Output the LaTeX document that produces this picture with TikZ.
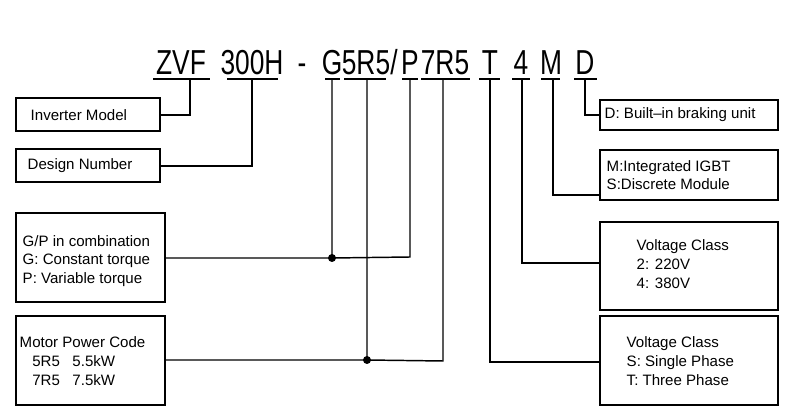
\documentclass[tikz,border=0pt]{standalone}
\usepackage{fontspec}
\setmainfont{Liberation Sans}
\begin{document}
\begin{tikzpicture}[x=0.75pt,y=-0.75pt,line width=1.1pt,
  code/.style={anchor=base,inner sep=0pt,font=\fontsize{26}{26}\selectfont,xscale=0.76},
  txt/.style={align=left,anchor=west,font=\fontsize{11.3}{14}\selectfont,inner sep=0pt},
  dot/.style={circle,fill,inner sep=0pt,minimum size=6pt}]
\useasboundingbox (0,0) rectangle (800,420);
% code
\node[code] (zvf) at (181,75) {ZVF};
\node[code] (h) at (252,75) {300H};
\node[code] (dash) at (302,75) {-};
\node[code] (g) at (332,75) {G};
\node[code] (r1) at (366,75) {5R5};
\node[code] (sl) at (394,75) {/};
\node[code] (p) at (410,75) {P};
\node[code] (r2) at (445,75) {7R5};
\node[code] (t) at (490,75) {T};
\node[code] (four) at (521,75) {4};
\node[code] (m) at (551,75) {M};
\node[code] (d) at (585,75) {D};
\draw (153,79)--(210,79) (227,79)--(278,79) (325,79)--(340,79) (344,79)--(386,79)
  (402,79)--(418,79) (421,79)--(470,79) (479,79)--(500,79) (512,79)--(530,79)
  (541,79)--(560,79) (574,79)--(597,79);
% left boxes
\draw[line width=1pt] (16,98) rectangle (160,131);
\node[txt] at (30,115) {Inverter Model};
\draw[line width=1pt] (16,149) rectangle (160,182);
\node[txt] at (27,166) {Design Number};
\draw[line width=1pt] (16,213) rectangle (165,302);
\node[txt] at (22,261) {G/P in combination\\G: Constant torque\\P: Variable torque};
\draw[line width=1pt] (16,316) rectangle (165,405);
\node[txt] at (19,361) {Motor Power Code\\\ \ \ 5R5\ \ \ 5.5kW\\\ \ \ 7R5\ \ \ 7.5kW};
% right boxes
\draw[line width=1pt] (600,100) rectangle (778,130);
\node[txt] at (604,115) {D: Built–in braking unit};
\draw[line width=1pt] (600,150) rectangle (778,200);
\node[txt] at (606,175) {M:Integrated IGBT\\S:Discrete Module};
\draw[line width=1pt] (600,222) rectangle (778,310);
\node[txt] at (636,264) {Voltage Class\\2: 220V\\4: 380V};
\draw[line width=1pt] (600,316) rectangle (778,405);
\node[txt] at (626,361) {Voltage Class\\S: Single Phase\\T: Three Phase};
% connectors
\draw (190,79)--(190,115)--(160,115);
\draw (252,79)--(252,166)--(160,166);
\node[dot] (d1) at (332,258) {};
\node[dot] (d2) at (367,360) {};
\draw (332,79)--(d1.center) (410,79)--(410,257)--(d1.center) (d1.center)--(165,258);
\draw (367,79)--(d2.center) (443,79)--(443,361)--(d2.center) (d2.center)--(165,360);
\draw (490,79)--(490,362)--(600,362);
\draw (522,79)--(522,263)--(600,263);
\draw (553,79)--(553,195)--(600,195);
\draw (585,79)--(585,115)--(600,115);
\end{tikzpicture}
\end{document}
